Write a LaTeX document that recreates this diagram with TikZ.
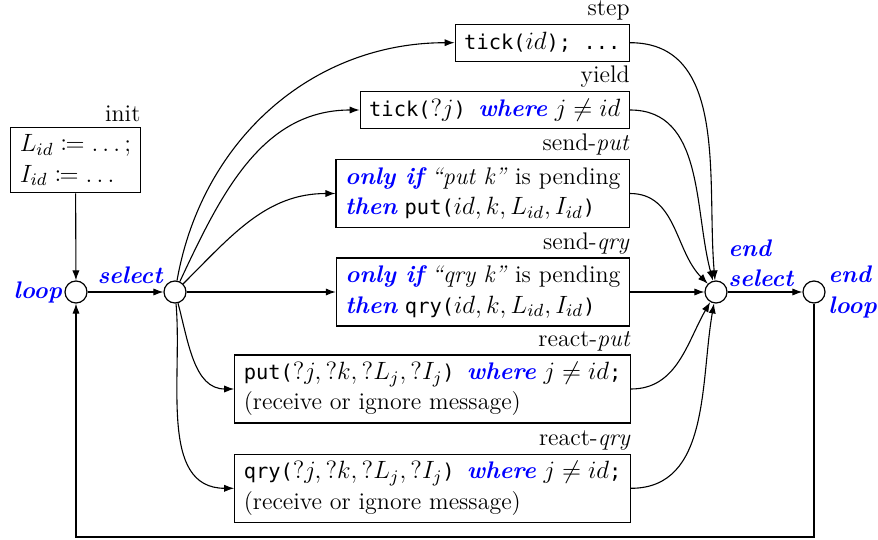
\RequirePackage{fix-cm}
\documentclass[tikz,border=0pt]{standalone}
\usepackage{fontspec}
\setmonofont{DejaVu Sans Mono}[Scale=0.85]
\usepackage{mathtools}
\DeclareMathSizes{12}{12.5}{8.8}{6.3}
\usetikzlibrary{arrows.meta}
\newcommand\kw[1]{\textcolor{blue}{\bfseries\itshape #1}}
\newcommand\fsz{\fontsize{12}{15.2}\selectfont}
\tikzset{
  box/.style={draw, line width=0.6pt, inner xsep=4.5pt, inner ysep=2pt, anchor=east, align=left, minimum height=18.5pt},
  box2/.style={box, minimum height=34pt},
  st/.style={draw, circle, line width=0.6pt, minimum size=11pt, inner sep=0pt},
  kwl/.style={text=blue, font=\fsz\bfseries\itshape, inner sep=1pt},
  arr/.style={-{Latex[length=5pt,width=3.6pt]}, line width=0.55pt},
  lbl/.style={anchor=base east, inner sep=0pt}
}
\begin{document}
\begin{tikzpicture}[x=0.5pt,y=-0.5pt,font=\fsz]
\useasboundingbox (0,0) rectangle (878,540);
% states
\node[st] (loop) at (76,292) {};
\node[st] (sel) at (175,292) {};
\node[st] (esel) at (716,292) {};
\node[st] (eloop) at (814,292) {};
\node[kwl, anchor=east] (lloop) at (loop.west) {loop};
\node[kwl] (lsel) at (130,275) {select};
\node[kwl, anchor=west, align=left] (lesel) at (726,263) {end\\select};
\node[kwl, anchor=west, align=left] (leloop) at (826,292) {end\\loop};
% init
\node[box2, anchor=center, minimum height=32.5pt] (init) at (75.5,160.3) {$L_{id} \coloneqq \dots;$\\$I_{id} \coloneqq \dots$};
\node[lbl] (linit) at ([yshift=3pt]init.north east) {init};
% boxes
\node[box] (step) at (630,42.7) {\texttt{tick(}$id$\texttt{); ...}};
\node[box] (yield) at (630,110) {\texttt{tick(}$?j$\texttt{) }\kw{where} $j \neq id$};
\node[box2] (sput) at (630,193.5) {\kw{only if} \textit{``put k''} is pending\\\kw{then} \texttt{put(}$id, k, L_{id}, I_{id}$\texttt{)}};
\node[box2] (sqry) at (630,292) {\kw{only if} \textit{``qry k''} is pending\\\kw{then} \texttt{qry(}$id, k, L_{id}, I_{id}$\texttt{)}};
\node[box2] (rput) at (631,389) {\texttt{put(}$?j, ?k, ?L_j, ?I_j$\texttt{) }\kw{where} $j \neq id$\texttt{;}\\(receive or ignore message)};
\node[box2] (rqry) at (631,488.3) {\texttt{qry(}$?j, ?k, ?L_j, ?I_j$\texttt{) }\kw{where} $j \neq id$\texttt{;}\\(receive or ignore message)};
\node[lbl] (lstep) at ([yshift=4pt]step.north east) {step};
\node[lbl] (lyield) at ([yshift=4pt]yield.north east) {yield};
\node[lbl] (lsput) at ([yshift=4pt]sput.north east) {send-\textit{put}};
\node[lbl] (lsqry) at ([yshift=4pt]sqry.north east) {send-\textit{qry}};
\node[lbl] (lrput) at ([yshift=4pt]rput.north east) {react-\textit{put}};
\node[lbl] (lrqry) at ([yshift=4pt]rqry.north east) {react-\textit{qry}};
% connectors
\draw[arr] (init) -- (loop);
\draw[arr] (loop) -- (sel);
\draw[arr] (sel) to[out=80,in=180] (step.west);
\draw[arr] (sel) to[out=65,in=180] (yield.west);
\draw[arr] (sel) to[out=45,in=180] (sput.west);
\draw[arr] (sel) -- (sqry.west);
\draw[arr] (sel) to[out=-75,in=180] (rput.west);
\draw[arr] (sel) to[out=-85,in=180] (rqry.west);
\draw[arr] (step.east) to[out=0,in=95] (esel);
\draw[arr] (yield.east) to[out=0,in=105] (esel);
\draw[arr] (sput.east) to[out=0,in=135] (esel);
\draw[arr] (sqry.east) -- (esel);
\draw[arr] (rput.east) to[out=0,in=-120] (esel);
\draw[arr] (rqry.east) to[out=0,in=-100] (esel);
\draw[arr] (esel) -- (eloop);
\coordinate (c1) at (814,537);
\coordinate (c2) at (76,537);
\draw[arr] (eloop) -- (c1) -- (c2) -- (loop);
\end{tikzpicture}
\end{document}
